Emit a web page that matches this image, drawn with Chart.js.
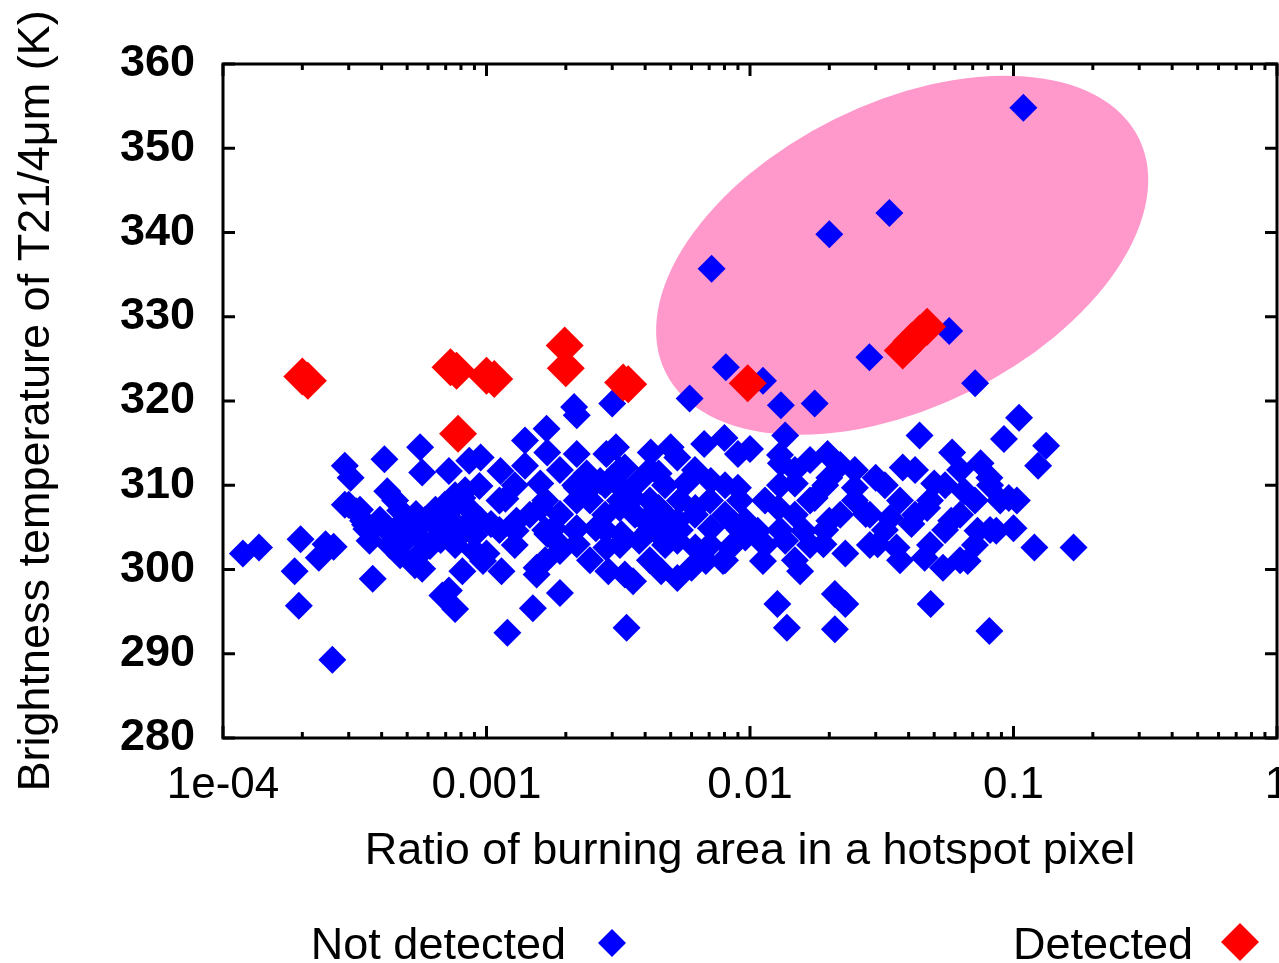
<!DOCTYPE html>
<html>
<head>
<meta charset="utf-8">
<script src="https://cdn.jsdelivr.net/npm/chart.js@4.4.0/dist/chart.umd.min.js"></script>
<style>
  html, body { margin: 0; padding: 0; background: #fff; }
  #wrap { width: 1279px; height: 963px; }
</style>
</head>
<body>
<div id="wrap"><canvas id="scatter" width="1279" height="963"></canvas></div>
<script>
// --- Data: [ratio of burning area, brightness temperature K] ---
const detectedPoints = [
  [2.0e-4, 322.9], [2.1e-4, 322.4], [7.3e-4, 324.0], [7.7e-4, 323.6], [7.8e-4, 316.1],
  [1.0e-3, 323.0], [1.07e-3, 322.6], [1.98e-3, 326.6], [2.0e-3, 323.9], [3.3e-3, 322.2],
  [3.45e-3, 322.0], [9.8e-3, 322.1], [3.8e-2, 326.0], [4.1e-2, 327.1], [4.4e-2, 328.0],
  [4.7e-2, 328.8]
];

const notDetectedPoints = [
  // 1e-4 .. 1e-3
  [1.19e-4, 301.9], [1.37e-4, 302.6], [1.87e-4, 299.8], [1.94e-4, 295.7], [1.97e-4, 303.6],
  [2.31e-4, 301.4], [2.45e-4, 303.0], [2.63e-4, 302.7], [2.6e-4, 289.3], [2.9e-4, 312.3],
  [3.05e-4, 310.9], [3.0e-4, 307.7], [3.2e-4, 306.9], [3.4e-4, 305.8], [3.6e-4, 303.4],
  [3.7e-4, 298.9], [3.5e-4, 304.8], [4.1e-4, 313.1], [4.2e-4, 309.3], [4.1e-4, 305.0],
  [5.6e-4, 314.5], [5.7e-4, 311.5], [5.4e-4, 306.6], [5.4e-4, 304.2], [5.6e-4, 301.9],
  [5.7e-4, 300.1], [6.4e-4, 306.1], [7.4e-4, 305.8], [7.2e-4, 311.7], [8.6e-4, 312.9],
  [9.5e-4, 313.3], [9.4e-4, 309.9], [8.1e-4, 308.5], [8.1e-4, 299.8], [7.2e-4, 297.5],
  [7.6e-4, 295.3], [6.8e-4, 296.9], [9.0e-4, 302.2], [9.7e-4, 301.0], [6.1e-4, 302.8],
  [6.7e-4, 304.6], [7.9e-4, 304.0], [8.7e-4, 305.8], [7.6e-4, 307.6], [4.7e-4, 307.0],
  [4.9e-4, 303.4], [4.5e-4, 308.2],
  [2.9e-4, 307.7], [3.31e-4, 307.1], [3.46e-4, 305.3], [3.67e-4, 304.7], [3.94e-4, 305.9],
  [4.5e-4, 304.7], [4.9e-4, 305.9], [5.1e-4, 305.3], [5.85e-4, 305.9], [6.4e-4, 307.1],
  [6.95e-4, 307.7], [7.6e-4, 308.8], [8.3e-4, 309.4], [8.65e-4, 307.1], [9.45e-4, 305.9],
  [6.7e-4, 303.5], [7.6e-4, 302.9], [9.0e-4, 304.1], [4.3e-4, 302.9], [4.7e-4, 301.7],
  [5.35e-4, 300.5],
  // 1e-3 .. 1e-2
  [2.15e-3, 319.3], [2.2e-3, 318.3], [3.0e-3, 319.7], [5.9e-3, 320.3], [1.69e-3, 316.7],
  [1.4e-3, 315.3], [1.13e-3, 311.7], [1.7e-3, 313.9], [2.2e-3, 313.7], [1.4e-3, 312.3],
  [1.18e-3, 308.4], [1.6e-3, 310.2], [1.6e-3, 307.3], [1.8e-3, 304.9], [1.29e-3, 304.6],
  [1.04e-3, 305.4], [1.0e-3, 301.9], [1.14e-3, 299.8], [1.55e-3, 300.2], [1.9e-3, 302.2],
  [2.2e-3, 308.2], [2.4e-3, 309.3], [2.85e-3, 313.7], [3.1e-3, 314.5], [3.35e-3, 312.1],
  [4.2e-3, 313.9], [5.0e-3, 314.5], [5.3e-3, 313.3], [6.7e-3, 314.9], [8.0e-3, 315.6],
  [9.0e-3, 313.7], [7.1e-3, 310.5], [9.0e-3, 309.7], [5.7e-3, 310.2], [4.5e-3, 311.4],
  [3.8e-3, 310.5], [3.0e-3, 310.9], [2.4e-3, 311.4], [3.2e-3, 307.3], [3.6e-3, 308.5],
  [4.5e-3, 307.3], [5.3e-3, 305.8], [6.2e-3, 307.3], [7.1e-3, 304.9], [8.7e-3, 305.4],
  [8.4e-3, 302.6], [9.6e-3, 303.8], [2.6e-3, 304.9], [2.2e-3, 304.9], [2.2e-3, 303.0],
  [2.85e-3, 302.6], [3.25e-3, 304.2], [3.8e-3, 303.4], [4.5e-3, 304.2], [5.3e-3, 303.4],
  [6.2e-3, 302.6], [6.8e-3, 301.0], [7.9e-3, 301.0], [2.9e-3, 299.8], [3.35e-3, 299.4],
  [3.6e-3, 298.6], [4.6e-3, 299.8], [5.3e-3, 299.0], [6.0e-3, 300.2], [1.55e-3, 299.4],
  [1.9e-3, 297.2], [1.5e-3, 295.4], [1.2e-3, 292.5], [3.4e-3, 293.1], [1.3e-3, 305.8],
  [1.9e-3, 306.6], [1.7e-3, 304.2], [2.2e-3, 309.7], [2.7e-3, 310.5], [3.35e-3, 309.3],
  [4.0e-3, 305.8], [4.8e-3, 305.8],
  [1.9e-3, 311.8], [3.21e-3, 311.8], [4.17e-3, 311.8], [6.18e-3, 311.8],
  [1.28e-3, 310.0], [2.17e-3, 310.0], [2.82e-3, 310.0], [4.76e-3, 310.0], [8.04e-3, 310.0],
  [1.12e-3, 308.2], [1.67e-3, 308.2], [2.47e-3, 308.2], [3.21e-3, 308.2], [4.17e-3, 308.2],
  [5.42e-3, 308.2], [7.05e-3, 308.2], [9.16e-3, 308.2],
  [1.46e-3, 306.5], [1.9e-3, 306.5], [2.82e-3, 306.5], [3.66e-3, 306.5], [4.76e-3, 306.5],
  [6.18e-3, 306.5], [8.04e-3, 306.5],
  [1.12e-3, 304.7], [1.67e-3, 304.7], [2.17e-3, 304.7], [2.82e-3, 304.7], [4.17e-3, 304.7],
  [5.42e-3, 304.7], [9.16e-3, 304.7],
  [1.28e-3, 302.9], [1.9e-3, 302.9], [3.21e-3, 302.9], [4.76e-3, 302.9], [7.05e-3, 302.9],
  [1.67e-3, 301.1], [2.47e-3, 301.1], [4.17e-3, 301.1], [8.04e-3, 301.1],
  // 1e-2 .. 1e-1
  [1.31e-2, 319.5], [1.76e-2, 319.7], [7.15e-2, 322.1], [1.0e-2, 314.3], [1.36e-2, 315.9],
  [4.4e-2, 315.9], [5.85e-2, 313.9], [9.2e-2, 315.5], [7.5e-2, 312.6], [1.31e-2, 312.6],
  [1.97e-2, 313.7], [1.48e-2, 310.2], [2.0e-2, 310.9], [2.5e-2, 309.7], [3.0e-2, 310.9],
  [3.8e-2, 312.1], [5.0e-2, 310.2], [6.5e-2, 309.3], [8.1e-2, 310.9], [8.9e-2, 308.2],
  [1.28e-2, 307.3], [1.76e-2, 308.5], [2.0e-2, 305.8], [2.75e-2, 306.6], [3.4e-2, 306.1],
  [4.1e-2, 305.4], [4.7e-2, 307.3], [5.8e-2, 305.8], [7.3e-2, 304.6], [9.6e-3, 305.8],
  [1.07e-2, 304.6], [1.36e-2, 303.4], [1.6e-2, 304.6], [1.9e-2, 303.0], [2.3e-2, 301.9],
  [3.05e-2, 303.0], [3.6e-2, 302.6], [4.6e-2, 301.4], [5.4e-2, 300.2], [6.7e-2, 301.0],
  [1.12e-2, 301.0], [1.55e-2, 299.8], [2.1e-2, 297.1], [2.3e-2, 295.9], [1.27e-2, 295.9],
  [1.38e-2, 293.1], [2.1e-2, 292.9], [4.85e-2, 295.9], [8.1e-2, 292.7],
  [1.3e-2, 313.6], [1.69e-2, 313.0], [2.2e-2, 312.4],
  [1.48e-2, 311.8], [2.5e-2, 311.8], [4.23e-2, 311.8], [6.27e-2, 311.8],
  [1.3e-2, 310.0], [1.93e-2, 310.0], [3.25e-2, 310.0], [5.5e-2, 310.0], [8.15e-2, 310.0],
  [1.14e-2, 308.2], [1.69e-2, 308.2], [2.5e-2, 308.2], [3.71e-2, 308.2], [4.82e-2, 308.2],
  [7.14e-2, 308.2],
  [1.48e-2, 306.5], [2.2e-2, 306.5], [2.85e-2, 306.5], [4.23e-2, 306.5], [6.27e-2, 306.5],
  [1.3e-2, 304.7], [1.93e-2, 304.7], [3.25e-2, 304.7], [5.5e-2, 304.7], [8.15e-2, 304.7],
  [1.14e-2, 302.9], [1.69e-2, 302.9], [2.85e-2, 302.9], [4.82e-2, 302.9], [7.14e-2, 302.9],
  [1.48e-2, 301.1], [3.71e-2, 301.1], [6.27e-2, 301.1],
  // 1e-1 and up
  [1.05e-1, 318.0], [1.33e-1, 314.7], [1.24e-1, 312.3], [9.6e-2, 308.5], [1.03e-1, 308.2],
  [1.0e-1, 304.9], [1.2e-1, 302.6], [1.69e-1, 302.6], [8.6e-2, 304.6],
  // inside the highlighted ellipse
  [1.09e-1, 354.8], [3.38e-2, 342.3], [2.0e-2, 339.8], [7.15e-3, 335.7], [5.7e-2, 328.3],
  [2.84e-2, 325.2], [8.1e-3, 324.0], [1.12e-2, 322.4]
];

const xTickValues = [1e-4, 1e-3, 1e-2, 1e-1, 1];
const xTickLabels = ["1e-04", "0.001", "0.01", "0.1", "1"];
const yMin = 280, yMax = 360, yStep = 10;

// highlighted region (center in data units)
const highlight = { x: 3.78e-2, y: 337.3, rx: 264, ry: 152, angle: -26.3, color: "#ff99cc" };

const FONT = '"Liberation Sans", Arial, Helvetica, sans-serif';
Chart.defaults.font.family = FONT;
Chart.defaults.color = "#000";

// pink ellipse behind the points
const ellipsePlugin = {
  id: "ellipse",
  beforeDatasetsDraw(chart) {
    const { ctx, scales } = chart;
    const cx = scales.x.getPixelForValue(highlight.x);
    const cy = scales.y.getPixelForValue(highlight.y);
    ctx.save();
    ctx.beginPath();
    ctx.ellipse(cx, cy, highlight.rx, highlight.ry, highlight.angle * Math.PI / 180, 0, Math.PI * 2);
    ctx.fillStyle = highlight.color;
    ctx.fill();
    ctx.restore();
  }
};

// gnuplot-like frame with inward ticks, the clipped last x label, and the bottom legend
const framePlugin = {
  id: "frame",
  afterDraw(chart) {
    const { ctx, chartArea: a, scales } = chart;
    ctx.save();
    ctx.strokeStyle = "#000";
    ctx.lineWidth = 3;
    ctx.strokeRect(a.left, a.top, a.right - a.left, a.bottom - a.top);

    ctx.beginPath();
    for (let v = yMin; v <= yMax; v += yStep) {
      const py = scales.y.getPixelForValue(v);
      ctx.moveTo(a.left, py); ctx.lineTo(a.left + 12, py);
      ctx.moveTo(a.right, py); ctx.lineTo(a.right - 12, py);
    }
    for (let e = -4; e <= 0; e++) {
      for (let m = 1; m <= 9; m++) {
        const v = m * Math.pow(10, e);
        if (v > 1) break;
        const px = scales.x.getPixelForValue(v);
        const len = m === 1 ? 12 : 6;
        ctx.moveTo(px, a.bottom); ctx.lineTo(px, a.bottom - len);
        ctx.moveTo(px, a.top); ctx.lineTo(px, a.top + len);
      }
    }
    ctx.stroke();

    // last x label sits on the canvas edge, drawn here so it does not shrink the plot
    const item = scales.x.getLabelItems()[0];
    ctx.font = "44px " + FONT;
    ctx.fillStyle = "#000";
    ctx.textAlign = "center";
    ctx.textBaseline = item.options.textBaseline;
    ctx.fillText(xTickLabels[xTickLabels.length - 1],
      scales.x.getPixelForValue(xTickValues[xTickValues.length - 1]),
      item.options.translation[1] + (item.textOffset || 0));

    // legend
    ctx.font = "45px " + FONT;
    ctx.textAlign = "right";
    ctx.textBaseline = "alphabetic";
    ctx.fillText("Not detected", 566, 959);
    ctx.fillText("Detected", 1193, 959);
    const diamond = (x, y, r, c) => {
      ctx.beginPath();
      ctx.moveTo(x - r, y); ctx.lineTo(x, y - r); ctx.lineTo(x + r, y); ctx.lineTo(x, y + r);
      ctx.closePath();
      ctx.fillStyle = c;
      ctx.fill();
    };
    diamond(612, 943, 14, "#0000ff");
    diamond(1240, 942, 19, "#ff0000");
    ctx.restore();
  }
};

new Chart(document.getElementById("scatter"), {
  type: "scatter",
  data: {
    datasets: [
      {
        label: "Detected",
        data: detectedPoints.map(([x, y]) => ({ x, y })),
        pointStyle: "rectRot",
        pointRadius: 19,
        backgroundColor: "#ff0000",
        borderColor: "#ff0000",
        borderWidth: 0,
        order: 0
      },
      {
        label: "Not detected",
        data: notDetectedPoints.map(([x, y]) => ({ x, y })),
        pointStyle: "rectRot",
        pointRadius: 14,
        backgroundColor: "#0000ff",
        borderColor: "#0000ff",
        borderWidth: 0,
        order: 1
      }
    ]
  },
  options: {
    responsive: false,
    animation: false,
    events: [],
    layout: { autoPadding: false, padding: { left: 0, top: 64, right: 2, bottom: 80 } },
    plugins: { legend: { display: false }, tooltip: { enabled: false } },
    scales: {
      x: {
        type: "logarithmic",
        min: 1e-4,
        max: 1,
        // tick marks are drawn by the frame plugin; tickLength only spaces the labels
        grid: { display: false, drawTicks: true, tickLength: 21 },
        border: { display: false },
        afterBuildTicks: (s) => { s.ticks = xTickValues.map((v) => ({ value: v })); },
        afterFit: (s) => { s.height = 145; s.paddingLeft = 0; s.paddingRight = 0; },
        ticks: {
          autoSkip: false,
          maxRotation: 0,
          padding: 0,
          font: { size: 44 },
          callback: (v, i) => (i === xTickLabels.length - 1 ? "" : xTickLabels[i])
        },
        title: {
          display: true,
          text: "Ratio of burning area in a hotspot pixel",
          font: { size: 45 },
          padding: { top: 0, bottom: 4 }
        }
      },
      y: {
        min: yMin,
        max: yMax,
        grid: { display: false, drawTicks: false },
        border: { display: false },
        afterFit: (s) => { s.width = 223; s.paddingTop = 0; s.paddingBottom = 0; },
        ticks: { stepSize: yStep, padding: 28, font: { size: 45, weight: "bold" } },
        title: {
          display: true,
          text: "Brightness temperature of T21/4\u03bcm (K)",
          font: { size: 45 },
          padding: { top: 10, bottom: 0 }
        }
      }
    }
  },
  plugins: [ellipsePlugin, framePlugin]
});
</script>
</body>
</html>
